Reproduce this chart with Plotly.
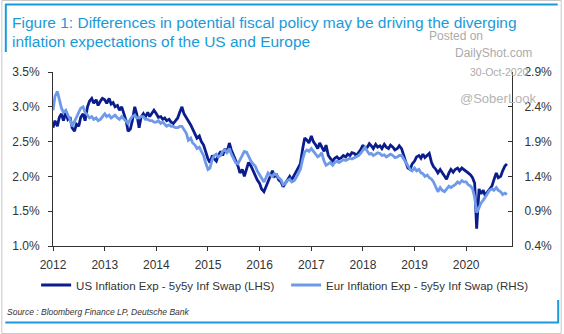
import pandas as pd
import plotly.graph_objects as go

# Semi-monthly observations (1st and 15th of each month), Jan 2012 - Oct 2020
month_starts = pd.date_range("2012-01-01", "2020-10-01", freq="MS")
dates = []
for d in month_starts:
    dates.append(d)
    dates.append(d + pd.Timedelta(days=14))

# US 5y5y inflation swap, % (left axis)
us_2012 = [2.70, 2.80, 2.72, 2.85, 2.90, 2.80, 2.92, 2.82, 2.85, 2.70, 2.65, 2.75,
           2.72, 2.85, 2.90, 2.80, 3.00, 3.08, 3.12, 3.05, 3.10, 3.02, 3.08, 3.12]
us_2013 = [3.10, 3.05, 3.12, 3.04, 3.06, 3.00, 3.02, 2.95, 3.00, 2.92, 2.80, 2.65,
           2.68, 2.80, 3.00, 2.90, 2.70, 2.85, 2.90, 2.85, 2.92, 2.86, 2.90, 2.95]
us_2014 = [2.90, 2.85, 2.86, 2.82, 2.84, 2.80, 2.82, 2.78, 2.76, 2.80, 2.84, 2.92,
           3.00, 2.90, 2.85, 2.80, 2.74, 2.68, 2.62, 2.55, 2.58, 2.50, 2.45, 2.36]
us_2015 = [2.25, 2.20, 2.30, 2.25, 2.22, 2.30, 2.36, 2.30, 2.40, 2.34, 2.48, 2.38,
           2.30, 2.22, 2.15, 2.05, 2.10, 2.00, 2.12, 2.20, 2.15, 2.08, 2.02, 1.95]
us_2016 = [1.90, 1.82, 1.78, 1.85, 1.95, 2.02, 2.08, 2.00, 2.02, 1.95, 1.92, 1.85,
           1.90, 1.96, 2.00, 1.95, 2.02, 2.06, 2.12, 2.18, 2.40, 2.55, 2.52, 2.48]
us_2017 = [2.58, 2.50, 2.45, 2.40, 2.48, 2.42, 2.36, 2.45, 2.30, 2.26, 2.22, 2.26,
           2.28, 2.25, 2.27, 2.30, 2.28, 2.32, 2.30, 2.34, 2.33, 2.30, 2.34, 2.38]
us_2018 = [2.45, 2.40, 2.42, 2.47, 2.44, 2.40, 2.46, 2.42, 2.44, 2.40, 2.46, 2.42,
           2.40, 2.45, 2.42, 2.38, 2.40, 2.44, 2.40, 2.30, 2.20, 2.12, 2.10, 2.18]
us_2019 = [2.22, 2.28, 2.30, 2.26, 2.32, 2.27, 2.30, 2.33, 2.20, 2.14, 2.10, 2.05,
           2.10, 2.06, 2.00, 1.96, 2.05, 2.10, 2.06, 2.10, 2.12, 2.08, 2.12, 2.10]
us_2020 = [2.08, 2.05, 2.02, 1.98, 1.90, 1.25, 1.82, 1.75, 1.80, 1.72, 1.78, 1.82,
           1.86, 1.95, 2.05, 1.98, 2.00, 2.08, 2.15, 2.18]

# Euro 5y5y inflation swap, % (right axis)
eur_2012 = [2.35, 2.55, 2.62, 2.50, 2.38, 2.32, 2.35, 2.28, 2.22, 2.12, 2.18, 2.25,
            2.32, 2.38, 2.40, 2.32, 2.28, 2.24, 2.26, 2.22, 2.24, 2.20, 2.22, 2.26]
eur_2013 = [2.30, 2.26, 2.28, 2.24, 2.26, 2.28, 2.24, 2.22, 2.26, 2.23, 2.20, 2.16,
            2.22, 2.26, 2.28, 2.24, 2.24, 2.26, 2.26, 2.22, 2.22, 2.20, 2.20, 2.18]
eur_2014 = [2.18, 2.20, 2.16, 2.18, 2.15, 2.12, 2.14, 2.12, 2.12, 2.10, 2.10, 2.12,
            2.12, 2.08, 2.02, 1.92, 1.95, 1.88, 1.85, 1.80, 1.82, 1.76, 1.70, 1.60]
eur_2015 = [1.50, 1.52, 1.65, 1.70, 1.72, 1.68, 1.70, 1.76, 1.78, 1.74, 1.80, 1.72,
            1.66, 1.60, 1.58, 1.64, 1.70, 1.76, 1.75, 1.68, 1.62, 1.58, 1.55, 1.48]
eur_2016 = [1.42, 1.38, 1.32, 1.38, 1.45, 1.42, 1.40, 1.44, 1.42, 1.38, 1.35, 1.28,
            1.30, 1.34, 1.36, 1.32, 1.34, 1.38, 1.45, 1.50, 1.65, 1.75, 1.78, 1.76]
eur_2017 = [1.80, 1.76, 1.72, 1.68, 1.70, 1.74, 1.62, 1.56, 1.58, 1.60, 1.56, 1.60,
            1.62, 1.60, 1.62, 1.64, 1.63, 1.65, 1.66, 1.65, 1.67, 1.69, 1.70, 1.73]
eur_2018 = [1.78, 1.82, 1.76, 1.72, 1.73, 1.70, 1.72, 1.74, 1.73, 1.70, 1.71, 1.68,
            1.70, 1.72, 1.70, 1.67, 1.68, 1.70, 1.70, 1.65, 1.60, 1.54, 1.50, 1.48]
eur_2019 = [1.52, 1.48, 1.50, 1.45, 1.44, 1.40, 1.42, 1.38, 1.36, 1.32, 1.25, 1.18,
            1.24, 1.20, 1.18, 1.22, 1.26, 1.24, 1.26, 1.28, 1.32, 1.30, 1.34, 1.32]
eur_2020 = [1.32, 1.28, 1.26, 1.22, 1.10, 0.88, 0.95, 1.02, 1.06, 1.10, 1.15, 1.20,
            1.22, 1.20, 1.24, 1.20, 1.18, 1.14, 1.16, 1.14]

us = us_2012 + us_2013 + us_2014 + us_2015 + us_2016 + us_2017 + us_2018 + us_2019 + us_2020
eur = (eur_2012 + eur_2013 + eur_2014 + eur_2015 + eur_2016 + eur_2017 + eur_2018
       + eur_2019 + eur_2020)

year_ticks = [str(y) for y in range(2012, 2021)]
left_ticks = [1.0, 1.5, 2.0, 2.5, 3.0, 3.5]
right_ticks = [0.4, 0.9, 1.4, 1.9, 2.4, 2.9]

US_NAME = "US Inflation Exp - 5y5y Inf Swap (LHS)"
EUR_NAME = "Eur Inflation Exp - 5y5y Inf Swap (RHS)"

NAVY = "#0b1d8c"
LIGHT = "#6f9aea"
DB_BLUE = "#1a9ad8"
AXIS = "#333333"
FONT = "Liberation Sans, Arial, sans-serif"

W, H = 564, 334
ML, MR, MT, MB = 52, 50, 72, 88
PW, PH = W - ML - MR, H - MT - MB


def px(x):
    return (x - ML) / PW


def py(y):
    return (H - MB - y) / PH


fig = go.Figure()
fig.add_trace(go.Scatter(
    x=dates, y=eur, name=EUR_NAME, yaxis="y2", mode="lines",
    line=dict(color=LIGHT, width=2.8), legendrank=2,
))
fig.add_trace(go.Scatter(
    x=dates, y=us, name=US_NAME, yaxis="y", mode="lines",
    line=dict(color=NAVY, width=2.8), legendrank=1,
))

tickfont = dict(family=FONT, size=12, color=AXIS)

fig.update_layout(
    width=W, height=H,
    margin=dict(l=ML, r=MR, t=MT, b=MB),
    paper_bgcolor="white", plot_bgcolor="white",
    font=dict(family=FONT, color=AXIS),
    showlegend=True,
    legend=dict(
        orientation="h", x=px(35), xanchor="left", y=py(285), yanchor="middle",
        font=dict(family=FONT, size=11.5, color=AXIS),
        entrywidth=205, entrywidthmode="pixels",
        bgcolor="rgba(0,0,0,0)", traceorder="normal", itemwidth=30,
    ),
    xaxis=dict(
        type="date", range=["2012-01-01", "2020-11-20"],
        tickvals=[f"{y}-01-01" for y in year_ticks], ticktext=year_ticks,
        showgrid=False, zeroline=False, showline=True, linecolor=AXIS, linewidth=1,
        ticks="outside", ticklen=4, tickcolor=AXIS, tickfont=tickfont,
        ticklabelstandoff=4,
    ),
    yaxis=dict(
        range=[1.0, 3.5], tickvals=left_ticks,
        ticktext=[f"{v:.1f}%" for v in left_ticks],
        showgrid=False, zeroline=False, showline=True, linecolor=AXIS, linewidth=1,
        ticks="outside", ticklen=4, tickcolor=AXIS, tickfont=tickfont,
        ticklabelstandoff=6,
    ),
    yaxis2=dict(
        range=[0.4, 2.9], tickvals=right_ticks,
        ticktext=[f"{v:.1f}%" for v in right_ticks],
        overlaying="y", side="right",
        showgrid=False, zeroline=False, showline=True, linecolor=AXIS, linewidth=1,
        ticks="inside", ticklen=4, tickcolor=AXIS, tickfont=tickfont,
        ticklabelstandoff=9,
    ),
)

annotations = [
    dict(text="Figure 1: Differences in potential fiscal policy may be driving the diverging",
         x=px(9), y=py(22), xanchor="left", yanchor="middle",
         font=dict(family=FONT, size=15.5, color=DB_BLUE)),
    dict(text="inflation expectations of the US and Europe",
         x=px(9), y=py(41), xanchor="left", yanchor="middle",
         font=dict(family=FONT, size=15.5, color=DB_BLUE)),
    dict(text="Source : Bloomberg Finance LP, Deutsche Bank",
         x=px(4), y=py(312), xanchor="left", yanchor="middle",
         font=dict(family=FONT, size=8.5, color=AXIS, style="italic")),
    dict(text="Posted on", x=px(428), y=py(36), xanchor="left", yanchor="middle",
         font=dict(family=FONT, size=12, color="#ababab")),
    dict(text="DailyShot.com", x=px(455), y=py(53), xanchor="left", yanchor="middle",
         font=dict(family=FONT, size=12, color="#ababab")),
    dict(text="30-Oct-2020", x=px(470), y=py(72), xanchor="left", yanchor="middle",
         font=dict(family=FONT, size=10.5, color="#ababab")),
    dict(text="@SoberLook", x=px(460), y=py(98), xanchor="left", yanchor="middle",
         font=dict(family=FONT, size=13, color="#b4b4b4")),
]
for a in annotations:
    a.update(xref="paper", yref="paper", showarrow=False)
fig.update_layout(annotations=annotations)

# Page frame: thin grey border plus the blue corner rules
shapes = [
    dict(type="rect", x0=px(0.5), x1=px(563.5), y0=py(0.5), y1=py(333.5),
         line=dict(color="#c8c8c8", width=1)),
    dict(type="line", x0=px(4), x1=px(560), y0=py(4.5), y1=py(4.5),
         line=dict(color=DB_BLUE, width=2)),
    dict(type="line", x0=px(4.5), x1=px(4.5), y0=py(4), y1=py(52),
         line=dict(color=DB_BLUE, width=2)),
    dict(type="line", x0=px(4), x1=px(561), y0=py(322.5), y1=py(322.5),
         line=dict(color=DB_BLUE, width=2)),
    dict(type="line", x0=px(560.5), x1=px(560.5), y0=py(300), y1=py(323),
         line=dict(color=DB_BLUE, width=2)),
]
for s in shapes:
    s.update(xref="paper", yref="paper", layer="above")
fig.update_layout(shapes=shapes)

fig.write_html("out.html")
